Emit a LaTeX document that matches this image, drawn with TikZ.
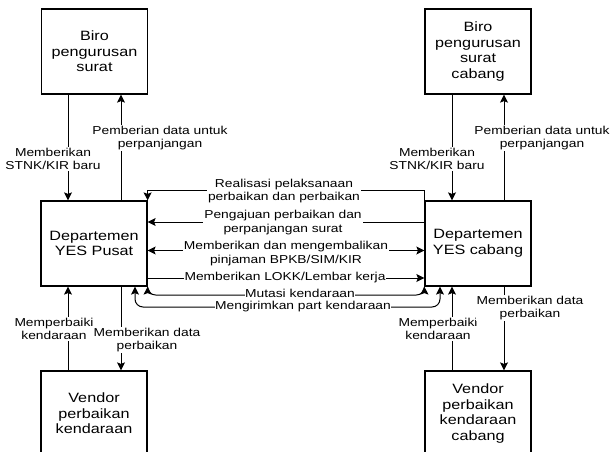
\documentclass[tikz,border=0pt]{standalone}
\usepackage{fontspec}
\setmainfont{Liberation Sans}[FakeStretch=1.2]
\usetikzlibrary{arrows.meta}
\begin{document}
\begin{tikzpicture}[x=1pt,y=-1pt,
  box/.style={draw,line width=1.2pt,minimum width=106pt,minimum height=85pt,align=center,font=\fontsize{13.5}{15.5}\selectfont,inner sep=0pt},
  lbl/.style={fill=white,align=center,font=\fontsize{11.5}{13.4}\selectfont,inner sep=1pt},
  slbl/.style={lbl,inner sep=0.5pt,text height=8pt,text depth=2pt},
  conn/.style={line width=1pt},
  arr/.style={conn,-{Stealth[length=8pt,width=8pt,inset=1.5pt]}},
  darr/.style={conn,{Stealth[length=8pt,width=8pt,inset=1.5pt]}-{Stealth[length=8pt,width=8pt,inset=1.5pt]}}]
\useasboundingbox (0,0) rectangle (610,452);
\clip (0,0) rectangle (610,452);
\fill[white] (0,0) rectangle (610,452);
% boxes
\node[box] (bl) at (94.5,51.5) {Biro\\pengurusan\\surat};
\node[box] (br) at (478,51.5) {Biro\\pengurusan\\surat\\cabang};
\node[box] (dl) at (94,243.5) {Departemen\\YES Pusat};
\node[box] (dr) at (478,243.5) {Departemen\\YES cabang};
\node[box] (vl) at (94,413.5) {Vendor\\perbaikan\\kendaraan};
\node[box] (vr) at (478,413.5) {Vendor\\perbaikan\\kendaraan\\cabang};
% helper coordinates
\coordinate (xa) at (68,0);
\coordinate (xb) at (121,0);
\coordinate (xc) at (452,0);
\coordinate (xd) at (504,0);
\coordinate (r2) at (0,222);
\coordinate (r3) at (0,250.5);
\coordinate (r4) at (0,278);
\coordinate (r5) at (0,295);
\coordinate (p6a) at (135,307);
\coordinate (p6b) at (440,307);
% vertical connectors
\draw[arr] (bl.south -| xa) -- (dl.north -| xa);
\draw[arr] (dl.north -| xb) -- (bl.south -| xb);
\draw[arr] (br.south -| xc) -- (dr.north -| xc);
\draw[arr] (dr.north -| xd) -- (br.south -| xd);
\draw[arr] (vl.north -| xa) -- (dl.south -| xa);
\draw[arr] (dl.south -| xb) -- (vl.north -| xb);
\draw[arr] (vr.north -| xc) -- (dr.south -| xc);
\draw[arr] (dr.south -| xd) -- (vr.north -| xd);
% horizontal connectors
\draw[arr] (dr.north west) -- ++(0,-10) -| (dl.north east);
\draw[arr] (dr.west |- r2) -- (dl.east |- r2);
\draw[darr] (dl.east |- r3) -- (dr.west |- r3);
\draw[arr] (dl.east |- r4) -- (dr.west |- r4);
\draw[darr,rounded corners=8pt] (dl.south east) -- (dl.south east |- r5) -- (dr.south west |- r5) -- (dr.south west);
\draw[darr,rounded corners=8pt] (dl.south -| p6a) -- (p6a) -- (p6b) -- (dr.south -| p6b);
% labels
\node[lbl] (l1) at (53,159) {Memberikan\\STNK/KIR baru};
\node[lbl] (l2) at (160,138) {Pemberian data untuk\\perpanjangan};
\node[lbl] (l3) at (437,159) {Memberikan\\STNK/KIR baru};
\node[lbl] (l4) at (542,138) {Pemberian data untuk\\perpanjangan};
\node[lbl] (l5) at (54,329) {Memperbaiki\\kendaraan};
\node[lbl] (l6) at (147,340) {Memberikan data\\perbaikan};
\node[lbl] (l7) at (438,329) {Memperbaiki\\kendaraan};
\node[lbl] (l8) at (530,308) {Memberikan data\\perbaikan};
\node[lbl] (m1) at (284,191) {Realisasi pelaksanaan\\perbaikan dan perbaikan};
\node[lbl] (m2) at (283,222.5) {Pengajuan perbaikan dan\\perpanjangan surat};
\node[lbl] (m3) at (286,253.5) {Memberikan dan mengembalikan\\pinjaman BPKB/SIM/KIR};
\node[slbl] (m4) at (285,277) {Memberikan LOKK/Lembar kerja};
\node[slbl] (m6) at (303,306) {Mengirimkan part kendaraan};
\node[slbl] (m5) at (300,294) {Mutasi kendaraan};
\end{tikzpicture}
\end{document}
